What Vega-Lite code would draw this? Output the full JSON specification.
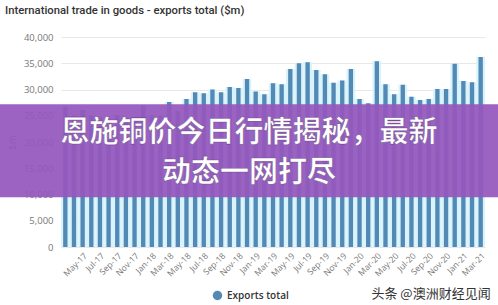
{
  "$schema": "https://vega.github.io/schema/vega-lite/v6.json",
  "width": 424,
  "height": 210,
  "autosize": "none",
  "padding": {"left": 61, "top": 37, "right": 13, "bottom": 58},
  "background": "#ffffff",
  "config": {"view": {"stroke": null}, "font": "Open Sans"},
  "title": {"text": "International trade in goods - exports total ($m)", "anchor": "start", "frame": "group", "dx": -56, "offset": 16, "fontSize": 11.3, "fontWeight": 500, "color": "#333333", "font": "Roboto"},
  "data": {"values": [
    {"month": "Mar-17", "value": 26700, "series": "Exports total"},
    {"month": "Apr-17", "value": 25000, "series": "Exports total"},
    {"month": "May-17", "value": 26100, "series": "Exports total"},
    {"month": "Jun-17", "value": 25100, "series": "Exports total"},
    {"month": "Jul-17", "value": 24800, "series": "Exports total"},
    {"month": "Aug-17", "value": 24600, "series": "Exports total"},
    {"month": "Sep-17", "value": 25100, "series": "Exports total"},
    {"month": "Oct-17", "value": 24700, "series": "Exports total"},
    {"month": "Nov-17", "value": 24600, "series": "Exports total"},
    {"month": "Dec-17", "value": 27000, "series": "Exports total"},
    {"month": "Jan-18", "value": 25100, "series": "Exports total"},
    {"month": "Feb-18", "value": 25000, "series": "Exports total"},
    {"month": "Mar-18", "value": 27600, "series": "Exports total"},
    {"month": "Apr-18", "value": 25900, "series": "Exports total"},
    {"month": "May-18", "value": 28200, "series": "Exports total"},
    {"month": "Jun-18", "value": 29500, "series": "Exports total"},
    {"month": "Jul-18", "value": 29300, "series": "Exports total"},
    {"month": "Aug-18", "value": 30000, "series": "Exports total"},
    {"month": "Sep-18", "value": 29500, "series": "Exports total"},
    {"month": "Oct-18", "value": 30500, "series": "Exports total"},
    {"month": "Nov-18", "value": 30300, "series": "Exports total"},
    {"month": "Dec-18", "value": 32000, "series": "Exports total"},
    {"month": "Jan-19", "value": 29600, "series": "Exports total"},
    {"month": "Feb-19", "value": 29100, "series": "Exports total"},
    {"month": "Mar-19", "value": 31200, "series": "Exports total"},
    {"month": "Apr-19", "value": 31000, "series": "Exports total"},
    {"month": "May-19", "value": 33900, "series": "Exports total"},
    {"month": "Jun-19", "value": 35000, "series": "Exports total"},
    {"month": "Jul-19", "value": 35200, "series": "Exports total"},
    {"month": "Aug-19", "value": 33700, "series": "Exports total"},
    {"month": "Sep-19", "value": 32900, "series": "Exports total"},
    {"month": "Oct-19", "value": 31300, "series": "Exports total"},
    {"month": "Nov-19", "value": 31700, "series": "Exports total"},
    {"month": "Dec-19", "value": 33900, "series": "Exports total"},
    {"month": "Jan-20", "value": 28200, "series": "Exports total"},
    {"month": "Feb-20", "value": 27400, "series": "Exports total"},
    {"month": "Mar-20", "value": 35400, "series": "Exports total"},
    {"month": "Apr-20", "value": 31000, "series": "Exports total"},
    {"month": "May-20", "value": 29100, "series": "Exports total"},
    {"month": "Jun-20", "value": 30900, "series": "Exports total"},
    {"month": "Jul-20", "value": 28600, "series": "Exports total"},
    {"month": "Aug-20", "value": 28000, "series": "Exports total"},
    {"month": "Sep-20", "value": 28200, "series": "Exports total"},
    {"month": "Oct-20", "value": 30100, "series": "Exports total"},
    {"month": "Nov-20", "value": 30100, "series": "Exports total"},
    {"month": "Dec-20", "value": 34900, "series": "Exports total"},
    {"month": "Jan-21", "value": 31600, "series": "Exports total"},
    {"month": "Feb-21", "value": 31400, "series": "Exports total"},
    {"month": "Mar-21", "value": 36200, "series": "Exports total"}
  ]},
  "encoding": {
    "x": {"field": "month", "type": "ordinal", "sort": null,
      "scale": {"paddingInner": 0, "paddingOuter": 0},
      "axis": {"title": null, "domain": false, "ticks": false, "labelAngle": -45, "labelAlign": "right", "labelBaseline": "top", "labelPadding": 4, "labelFontSize": 8.5, "labelColor": "#777777", "labelFont": "Open Sans",
        "values": ["Mar-17","May-17","Jul-17","Sep-17","Nov-17","Jan-18","Mar-18","May-18","Jul-18","Sep-18","Nov-18","Jan-19","Mar-19","May-19","Jul-19","Sep-19","Nov-19","Jan-20","Mar-20","May-20","Jul-20","Sep-20","Nov-20","Jan-21","Mar-21"]}}
  },
  "layer": [
    {
      "mark": {"type": "bar", "color": "#d8f3fb", "width": {"band": 1}},
      "encoding": {
        "y": {"field": "value", "type": "quantitative", "scale": {"domain": [0, 40000], "nice": false},
          "axis": {"title": "$m", "titleFontSize": 10, "titleFontWeight": "normal", "titleColor": "#777777", "titlePadding": 6, "domain": false, "ticks": false, "tickCount": 8, "format": ",d", "labelPadding": 8, "labelFontSize": 9.5, "labelColor": "#777777", "gridColor": "#e8e8e8", "labelFont": "Open Sans", "titleFont": "Open Sans"}}
      }
    },
    {
      "mark": {"type": "bar", "width": {"band": 0.5}},
      "encoding": {
        "y": {"field": "value", "type": "quantitative"},
        "color": {"field": "series", "type": "nominal", "scale": {"range": ["#5289b5"]},
          "legend": {"title": null, "orient": "none", "legendX": 151, "legendY": 253, "symbolType": "circle", "symbolSize": 90, "labelFontSize": 10, "labelFontWeight": 600, "labelColor": "#333333", "labelFont": "Open Sans"}}
      }
    },
    {
      "data": {"values": [{"top": 27200, "bottom": 9500}]},
      "mark": {"type": "rect", "color": "#9457bd", "opacity": 0.93, "xOffset": -61, "x2Offset": 13, "clip": false},
      "encoding": {
        "x": {"value": 0},
        "x2": {"value": "width"},
        "y": {"field": "top", "type": "quantitative"},
        "y2": {"field": "bottom"}
      }
    },
    {
      "data": {"values": [{"label": "恩施铜价今日行情揭秘，最新", "pos": 21700, "m": "Dec-18"}, {"label": "动态一网打尽", "pos": 14100, "m": "Dec-18"}]},
      "mark": {"type": "text", "font": "Noto Sans CJK SC", "fontWeight": "bold", "fontSize": 29, "color": "#ffffff", "stroke": "#5b3878", "strokeWidth": 0.6, "strokeOpacity": 0.7, "dx": 2, "baseline": "middle", "align": "center"},
      "encoding": {
        "x": {"field": "m", "type": "ordinal"},
        "y": {"field": "pos", "type": "quantitative"},
        "text": {"field": "label"}
      }
    },
    {
      "data": {"values": [{"label": "头条 @澳洲财经见闻", "pos": -9000, "m": "Mar-21"}]},
      "mark": {"type": "text", "font": "Noto Sans CJK SC", "fontSize": 13, "color": "#333333", "align": "right", "baseline": "middle", "dx": 10, "clip": false},
      "encoding": {
        "x": {"field": "m", "type": "ordinal"},
        "y": {"field": "pos", "type": "quantitative"},
        "text": {"field": "label"}
      }
    }
  ]
}
